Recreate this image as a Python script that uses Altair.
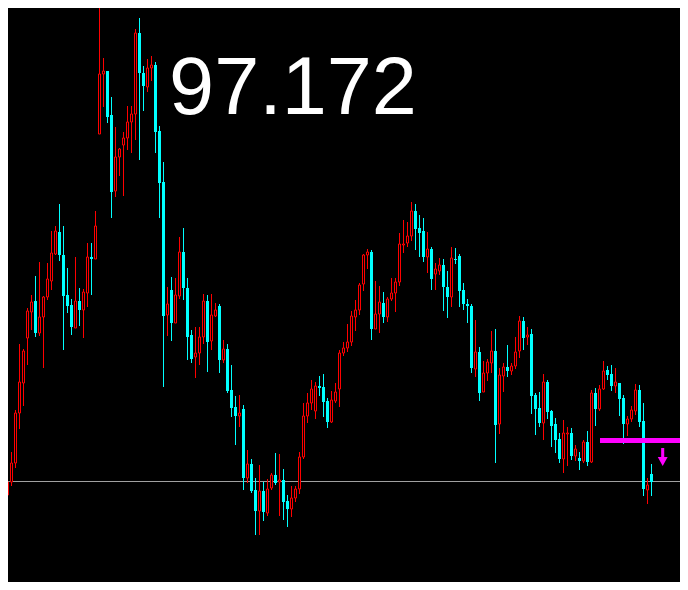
import altair as alt
import pandas as pd

# Candle OHLC values (price points), one per bar
open_ = [98, 91, 95, 108, 127, 177, 207, 252, 278, 289,
         257, 273, 293, 309, 336, 358, 335, 295, 285, 262,
         289, 280, 297, 333, 331, 456, 516, 519, 475, 399,
         433, 445, 452, 468, 476, 557, 517, 503, 522, 525,
         459, 408, 275, 300, 267, 294, 338, 302, 255, 233,
         237, 253, 289, 249, 274, 284, 230, 241, 200, 183,
         174, 181, 112, 126, 100, 79, 99, 77, 102, 115,
         108, 110, 89, 81, 92, 101, 133, 174, 187, 179,
         204, 203, 189, 168, 189, 201, 237, 242, 248, 273,
         280, 306, 335, 338, 261, 276, 287, 273, 291, 297,
         308, 345, 347, 354, 379, 362, 359, 333, 341, 316,
         319, 325, 303, 293, 331, 334, 300, 286, 284, 221,
         238, 198, 217, 227, 239, 166, 214, 223, 219, 224,
         239, 269, 253, 256, 195, 182, 167, 208, 179, 166,
         151, 131, 156, 157, 134, 132, 129, 148, 128, 197,
         181, 201, 220, 216, 204, 207, 192, 166, 171, 179,
         200, 169, 100, 116]

close = [88, 96, 108, 127, 177, 208, 239, 279, 288, 257,
         273, 293, 311, 337, 359, 335, 294, 284, 263, 289,
         280, 298, 333, 331, 364, 516, 519, 473, 398, 433,
         441, 452, 468, 476, 557, 517, 504, 522, 525, 458,
         407, 274, 286, 267, 295, 338, 302, 253, 231, 237,
         253, 289, 248, 275, 280, 230, 241, 199, 182, 174,
         177, 112, 126, 99, 79, 99, 78, 101, 115, 107,
         110, 88, 81, 92, 101, 133, 174, 187, 201, 204,
         202, 188, 168, 190, 198, 237, 242, 248, 274, 280,
         305, 335, 338, 261, 276, 288, 273, 291, 297, 308,
         346, 346, 354, 379, 361, 357, 333, 341, 311, 321,
         325, 303, 293, 332, 330, 299, 286, 284, 222, 238,
         197, 217, 228, 239, 165, 215, 223, 219, 224, 238,
         269, 252, 255, 194, 181, 167, 208, 178, 164, 150,
         131, 157, 157, 134, 141, 129, 148, 128, 197, 181,
         201, 219, 215, 204, 208, 191, 166, 171, 180, 200,
         168, 101, 105, 108]

high = [102, 102, 113, 138, 180, 246, 241, 282, 295, 314,
        328, 294, 327, 359, 364, 386, 364, 322, 291, 333,
        302, 301, 347, 347, 379, 587, 532, 519, 493, 463,
        442, 458, 484, 484, 561, 572, 524, 531, 534, 528,
        464, 428, 303, 313, 312, 353, 362, 312, 260, 263,
        263, 296, 295, 296, 287, 286, 250, 246, 225, 194,
        195, 185, 140, 131, 112, 125, 108, 111, 117, 137,
        136, 121, 95, 104, 104, 138, 187, 197, 210, 208,
        214, 216, 192, 199, 207, 240, 248, 266, 279, 290,
        307, 336, 341, 340, 309, 304, 298, 293, 312, 312,
        357, 370, 368, 388, 386, 375, 372, 358, 343, 327,
        332, 331, 319, 343, 342, 336, 307, 291, 286, 270,
        243, 229, 231, 259, 261, 222, 227, 245, 227, 253,
        274, 273, 263, 261, 197, 198, 216, 210, 180, 172,
        157, 170, 163, 162, 145, 138, 150, 159, 200, 202,
        205, 229, 224, 225, 222, 207, 195, 174, 184, 206,
        205, 187, 112, 126]

low = [82, 80, 94, 104, 122, 161, 184, 225, 260, 253,
       254, 222, 290, 300, 335, 329, 240, 277, 255, 262,
       264, 252, 283, 295, 331, 456, 483, 467, 372, 393,
       414, 394, 440, 437, 450, 430, 479, 498, 509, 437,
       372, 203, 254, 249, 267, 291, 290, 230, 227, 212,
       225, 246, 218, 240, 273, 217, 227, 197, 173, 145,
       163, 100, 107, 97, 55, 55, 69, 74, 100, 105,
       74, 70, 63, 73, 88, 96, 131, 167, 180, 171,
       194, 173, 162, 167, 187, 183, 234, 238, 244, 259,
       275, 299, 321, 250, 261, 257, 267, 268, 289, 278,
       304, 337, 343, 349, 340, 333, 328, 317, 300, 300,
       315, 279, 272, 283, 326, 283, 280, 267, 217, 213,
       189, 198, 209, 217, 127, 156, 198, 213, 215, 221,
       232, 240, 245, 176, 155, 163, 150, 171, 143, 137,
       127, 117, 124, 130, 129, 120, 127, 124, 127, 164,
       179, 200, 210, 199, 197, 174, 146, 154, 168, 175,
       163, 94, 86, 94]

# Reference levels and annotation
current_price_level = 108.5
current_price_label = "97.172"
label_bar, label_level = 42.4, 476
signal_level = 149.5
signal_from_bar, signal_to_bar = 150.125, 175
arrow_bar, arrow_level = 165.8, 133

n = len(open_)
df = pd.DataFrame({
    "bar": list(range(n)),
    "open": open_, "close": close, "high": high, "low": low,
})
df["dir"] = ["up" if c > o else "down" for o, c in zip(open_, close)]

xs = alt.Scale(domain=[2.125, 170.125], nice=False, zero=False, padding=0)
ys = alt.Scale(domain=[8, 582], nice=False, zero=False, padding=0)
RED = "#ff0000"
CYAN = "#00ffff"
MAG = "#ff00ff"

base = alt.Chart(df)

wicks = base.mark_rule(strokeWidth=1, clip=True).encode(
    x=alt.X("bar:Q", scale=xs, axis=None),
    y=alt.Y("low:Q", scale=ys, axis=None),
    y2="high:Q",
    color=alt.Color("dir:N", scale=alt.Scale(domain=["up", "down"], range=[RED, CYAN]), legend=None),
)

down_bodies = base.transform_filter(alt.datum.dir == "down").mark_bar(
    size=3, color=CYAN, clip=True
).encode(
    x=alt.X("bar:Q", scale=xs, axis=None),
    y=alt.Y("open:Q", scale=ys, axis=None),
    y2="close:Q",
)

up_bodies = base.transform_filter(alt.datum.dir == "up").mark_bar(
    size=2, fill="black", stroke=RED, strokeWidth=1, clip=True
).encode(
    x=alt.X("bar:Q", scale=xs, axis=None),
    y=alt.Y("open:Q", scale=ys, axis=None),
    y2="close:Q",
)

price_line = alt.Chart(pd.DataFrame({"level": [current_price_level]})).mark_rule(
    color="#a0a0a0", strokeWidth=1, clip=True
).encode(
    y=alt.Y("level:Q", scale=ys, axis=None),
)

signal_line = alt.Chart(pd.DataFrame({
    "x0": [signal_from_bar], "x1": [signal_to_bar], "level": [signal_level]
})).mark_rule(color=MAG, strokeWidth=5, clip=True).encode(
    x=alt.X("x0:Q", scale=xs, axis=None),
    x2="x1:Q",
    y=alt.Y("level:Q", scale=ys, axis=None),
)

arrow_path = "M-0.17,-1L0.17,-1L0.17,0L0.55,0L0,1L-0.55,0L-0.17,0Z"
arrow = alt.Chart(pd.DataFrame({"bar": [arrow_bar], "level": [arrow_level]})).mark_point(
    shape=arrow_path, size=324, filled=True, fill=MAG, opacity=1, clip=True
).encode(
    x=alt.X("bar:Q", scale=xs, axis=None),
    y=alt.Y("level:Q", scale=ys, axis=None),
)

label = alt.Chart(pd.DataFrame({
    "bar": [label_bar], "level": [label_level], "text": [current_price_label]
})).mark_text(
    align="left", baseline="alphabetic", fontSize=81, font="Liberation Sans",
    color="white", clip=True
).encode(
    x=alt.X("bar:Q", scale=xs, axis=None),
    y=alt.Y("level:Q", scale=ys, axis=None),
    text="text:N",
)

chart = alt.layer(
    price_line, wicks, down_bodies, up_bodies, signal_line, arrow, label
).properties(
    width=672, height=574, background="black",
    padding=0, autosize=alt.AutoSizeParams(type="none"),
).configure_view(stroke=None, fill="black")

chart.save("out.html", embed_options={"renderer": "svg", "actions": False})
